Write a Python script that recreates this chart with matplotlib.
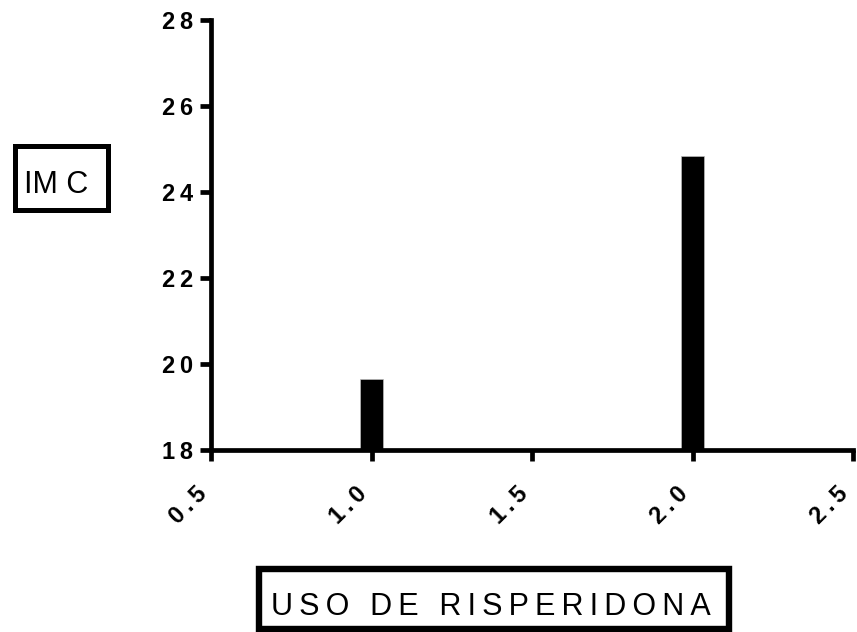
import matplotlib

matplotlib.use("Agg")
import matplotlib.pyplot as plt
from matplotlib.patches import Rectangle

plt.rcParams["font.family"] = ["Liberation Sans", "DejaVu Sans"]

# IMC by risperidone use (1 = no, 2 = yes)
groups = [1.0, 2.0]
imc = [19.66, 24.84]
x_ticks = [0.5, 1.0, 1.5, 2.0, 2.5]
y_ticks = [18, 20, 22, 24, 26, 28]

W, H = 857, 632
THIN = "\u2009"


def spaced(text, gap=THIN):
    return gap.join(text)


def fx(px):
    return px / W


def fy(px):
    return 1 - px / H


def boxed_label(fig, x0, y0, x1, y1, lw):
    # frame drawn in figure pixels (top-left origin), line centred on the edge
    fig.add_artist(Rectangle((fx(x0), fy(y1)), fx(x1) - fx(x0), fy(y0) - fy(y1),
                             transform=fig.transFigure, fill=False,
                             edgecolor="black", linewidth=lw))


fig = plt.figure(figsize=(W / 100, H / 100), dpi=100)
ax = fig.add_axes([fx(211), fy(450), fx(853) - fx(211), fy(20) - fy(450)])

ax.bar(groups, [v - 18 for v in imc], bottom=18, width=0.072,
       color="black", edgecolor="#bbbbbb", linewidth=0.5, zorder=2)

ax.set_xlim(0.5, 2.5)
ax.set_ylim(18, 28)
for side in ("top", "right"):
    ax.spines[side].set_visible(False)
for side in ("left", "bottom"):
    ax.spines[side].set_linewidth(3.4)
    ax.spines[side].set_capstyle("projecting")

ax.set_xticks(x_ticks)
ax.set_xticklabels([spaced(f"{t:.1f}") for t in x_ticks],
                   rotation=45, ha="right", va="bottom", rotation_mode="anchor",
                   fontsize=17, fontweight="bold")
ax.set_yticks(y_ticks)
ax.set_yticklabels([spaced(str(t)) for t in y_ticks],
                   fontsize=17, fontweight="bold")
ax.tick_params(axis="both", length=8, width=3.4, direction="out")
ax.tick_params(axis="y", pad=5)
ax.tick_params(axis="x", pad=27)

boxed_label(fig, 14.5, 145.5, 107.5, 209.5, lw=3.6)
fig.text(fx(56.5), fy(193), "IM C", fontsize=22, ha="center", va="baseline")

boxed_label(fig, 258.5, 568.5, 728.5, 629, lw=4.6)
fig.text(fx(490.5), fy(615), spaced("USO DE RISPERIDONA"), fontsize=22,
         ha="center", va="baseline")

fig.savefig("out.png", dpi=100)
